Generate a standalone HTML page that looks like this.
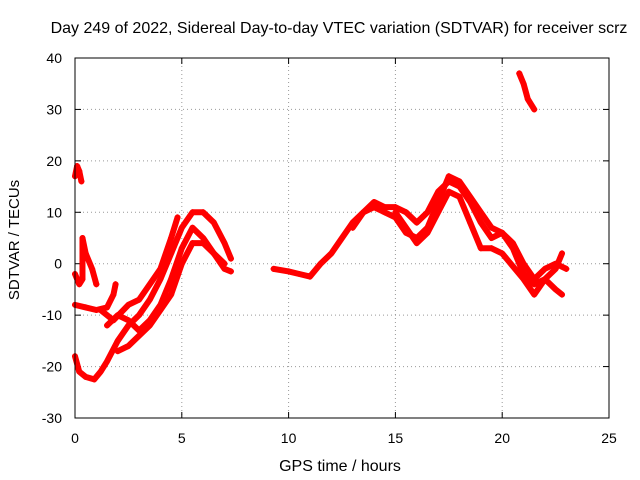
<!DOCTYPE html>
<html><head><meta charset="utf-8"><style>
body{margin:0;background:#fff;}
svg{display:block;font-family:"Liberation Sans",sans-serif;}
</style></head><body>
<svg id="chart" width="640" height="480">
<rect width="640" height="480" fill="#fff"/>
<text x="339" y="33" font-size="16" text-anchor="middle">Day 249 of 2022, Sidereal Day-to-day VTEC variation (SDTVAR) for receiver scrz</text>
<text x="340" y="471" font-size="16" text-anchor="middle">GPS time / hours</text>
<text x="0" y="0" font-size="15" text-anchor="middle" transform="translate(19,240) rotate(-90)">SDTVAR / TECUs</text>
<g id="grid"></g><g id="ticks"></g><g id="series"></g>
<rect x="75" y="58" width="534" height="360" fill="none" stroke="#000"/>
</svg>
<script>
const xTicks=[0,5,10,15,20,25];
const yTicks=[-30,-20,-10,0,10,20,30,40];
const trackA=[[0,17],[0.1,19],[0.2,18],[0.3,16]];
const trackB=[[0,-2],[0.2,-4],[0.35,-3],[0.35,5],[0.5,2],[0.8,-1],[1,-4]];
const trackC=[[0,-8],[0.5,-8.5],[1,-9],[1.5,-8.5],[1.8,-6],[1.9,-4]];
const trackD=[[0,-18],[0.2,-21],[0.5,-22],[0.9,-22.5],[1.2,-21],[1.5,-19],[2,-15],[2.5,-12],[3,-10],[3.5,-7],[4,-3],[4.5,2],[5,7],[5.5,10],[6,10],[6.5,8],[7,4],[7.3,1]];
const trackE=[[1.5,-12],[2,-10],[2.5,-11],[3,-13],[3.5,-11],[4,-8],[4.5,-3],[5,3],[5.5,7],[6,5],[6.5,2],[7,-1],[7.3,-1.5]];
const trackF=[[2,-17],[2.5,-16],[3,-14],[3.5,-12],[4,-9],[4.5,-6],[5,0],[5.5,4],[6,4],[6.5,2],[7,0]];
const trackG=[[1.2,-9],[1.8,-11],[2.5,-8],[3,-7],[3.5,-4],[4,-1],[4.5,5],[4.8,9]];
const trackH=[[9.3,-1],[10,-1.5],[10.5,-2],[11,-2.5],[11.5,0],[12,2],[12.5,5],[13,8],[13.5,10],[14,12],[14.5,11],[15,11],[15.5,10],[16,8],[16.5,10],[17,14],[17.5,16],[18,15],[18.5,12],[19,8],[19.5,5],[20,6],[20.5,4],[21,0],[21.5,-3],[22,-1],[22.5,0],[23,-1]];
const trackI=[[13,7],[13.5,10],[14,11],[14.5,10],[15,9],[15.5,6],[16,5],[16.5,7],[17,12],[17.5,17],[18,16],[18.5,13],[19,10],[19.5,7],[20,6],[20.5,3],[21,-2],[21.5,-4],[22,-3],[22.5,-5],[22.8,-6]];
const trackJ=[[15,10],[15.5,7],[16,4],[16.5,6],[17,10],[17.5,14],[18,13],[18.5,8],[19,3],[19.5,3],[20,2],[21,-3],[21.5,-6],[22,-3],[22.5,-1],[22.8,2]];
const trackK=[[20.8,37],[21,35],[21.2,32],[21.5,30]];
const tracks=[trackA,trackB,trackC,trackD,trackE,trackF,trackG,trackH,trackI,trackJ,trackK];
const NS="http://www.w3.org/2000/svg";
const X=v=>75+v*(534/25), Y=v=>418-(v+30)*(360/70);
const grid=document.getElementById('grid'),ticks=document.getElementById('ticks'),ser=document.getElementById('series');
function mk(tag,at,parent){const e=document.createElementNS(NS,tag);for(const k in at)e.setAttribute(k,at[k]);parent.appendChild(e);return e;}
xTicks.forEach(t=>{
  if(t>0&&t<25){const g=mk('line',{x1:X(t),x2:X(t),y1:58,y2:418,stroke:'#999','stroke-dasharray':'1,3'},grid);
  
  }
  mk('line',{x1:X(t),x2:X(t),y1:418,y2:412,stroke:'#000'},ticks);mk('line',{x1:X(t),x2:X(t),y1:58,y2:64,stroke:'#000'},ticks);
  const l=mk('text',{x:X(t),y:443,'font-size':14,'text-anchor':'middle'},ticks);l.textContent=t;
  
  
});
yTicks.forEach(t=>{
  if(t>-30&&t<40){const g=mk('line',{x1:75,x2:609,y1:Y(t),y2:Y(t),stroke:'#999','stroke-dasharray':'1,3'},grid);
  
  }
  mk('line',{x1:75,x2:81,y1:Y(t),y2:Y(t),stroke:'#000'},ticks);mk('line',{x1:609,x2:603,y1:Y(t),y2:Y(t),stroke:'#000'},ticks);
  const l=mk('text',{x:62,y:Y(t)+5,'font-size':14,'text-anchor':'end'},ticks);l.textContent=t;
  
  
});
tracks.forEach(tr=>{
  const p=mk('polyline',{points:tr.map(d=>X(d[0])+','+Y(d[1])).join(' '),fill:'none',stroke:'#f00','stroke-width':6,'stroke-linejoin':'round','stroke-linecap':'round'},ser);
  
  
  tr.forEach(d=>{
    const m=mk('path',{d:`M${X(d[0])-3},${Y(d[1])}h6M${X(d[0])},${Y(d[1])-3}v6`,stroke:'#f00','stroke-width':1.5},ser);
    
    
  });
});
</script>
</body></html>
